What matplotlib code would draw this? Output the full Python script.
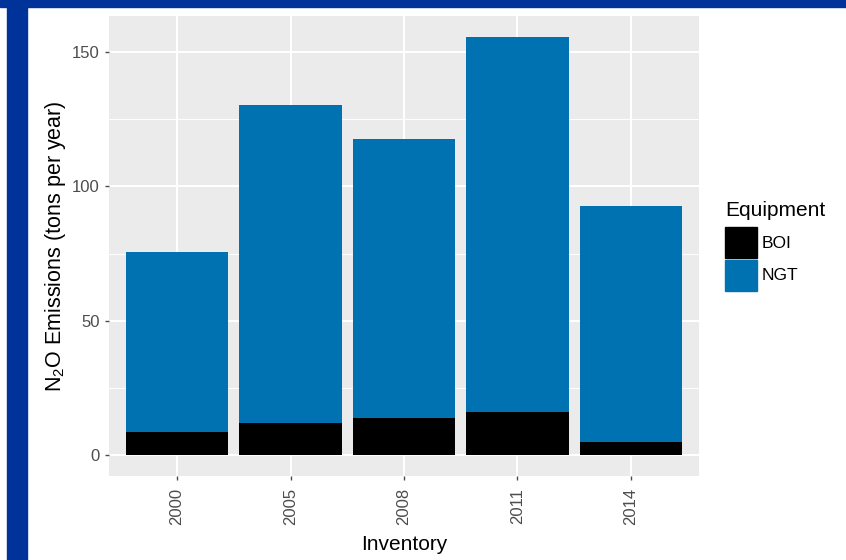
import numpy as np
import matplotlib
matplotlib.use('Agg')
import matplotlib.pyplot as plt
from matplotlib.patches import Rectangle

# data
inventory = ['2000', '2005', '2008', '2011', '2014']
boi = [8.7, 11.8, 13.8, 16.0, 4.9]
total = [75.4, 130.2, 117.5, 155.6, 92.5]
ngt = [t - b for t, b in zip(total, boi)]
y_ticks = [0, 50, 100, 150]
y_minor = [25, 75, 125]

BOI_COLOR = '#000000'
NGT_COLOR = '#0072B2'
PANEL = '#EBEBEB'
TICK_GREY = '#4D4D4D'
BORDER = '#003399'

plt.rcParams['font.family'] = ['Liberation Sans', 'DejaVu Sans']
plt.rcParams['mathtext.default'] = 'regular'

W, H = 846, 560
fig = plt.figure(figsize=(W / 100, H / 100), dpi=100)
fig.patch.set_facecolor('white')

# slide border (top bar and left column)
fig.patches.append(Rectangle((0, 1 - 7 / H), 1, 7 / H, transform=fig.transFigure,
                             color=BORDER, zorder=0))
fig.patches.append(Rectangle((7 / W, 0), 20 / W, 1, transform=fig.transFigure,
                             color=BORDER, zorder=0))

left, right, top, bottom = 109, 699, 16, 476
ax = fig.add_axes([left / W, 1 - bottom / H, (right - left) / W, (bottom - top) / H])
ax.set_facecolor(PANEL)

x = np.arange(len(inventory))
ax.bar(x, boi, width=0.9, color=BOI_COLOR, zorder=3)
ax.bar(x, ngt, width=0.9, bottom=boi, color=NGT_COLOR, zorder=3)

ymax = max(total)
ax.set_ylim(-0.05 * ymax, 1.05 * ymax)
ax.set_xlim(-0.6, len(inventory) - 0.4)

ax.set_xticks(x)
ax.set_xticklabels(inventory, rotation=90)
ax.set_yticks(y_ticks)
ax.set_yticks(y_minor, minor=True)
ax.grid(True, which='major', color='white', linewidth=1.5, zorder=1)
ax.grid(True, which='minor', axis='y', color='white', linewidth=0.7, zorder=1)
ax.set_axisbelow(True)
for s in ax.spines.values():
    s.set_visible(False)
ax.tick_params(axis='both', which='major', colors=TICK_GREY, labelcolor=TICK_GREY,
               labelsize=12, length=3, width=1, pad=3.5)
ax.tick_params(axis='x', which='major', pad=5.5)
ax.tick_params(axis='y', which='minor', length=0)

ax.set_xlabel('Inventory', fontsize=15, color='black', labelpad=7)
ax.set_ylabel('N$_2$O Emissions (tons per year)', fontsize=15.5, color='black', labelpad=3)

# legend drawn by hand, ggplot style
fig.text(725 / W, 1 - 211 / H, 'Equipment', fontsize=15, va='center', ha='left')
for i, (name, col) in enumerate([('BOI', BOI_COLOR), ('NGT', NGT_COLOR)]):
    y0 = 227 + i * 33
    fig.patches.append(Rectangle((725 / W, 1 - (y0 + 31) / H), 32 / W, 31 / H,
                                 transform=fig.transFigure, color=col))
    fig.text(762 / W, 1 - (y0 + 16) / H, name, fontsize=12.5, va='center', ha='left')

fig.savefig('out.png', dpi=100)
